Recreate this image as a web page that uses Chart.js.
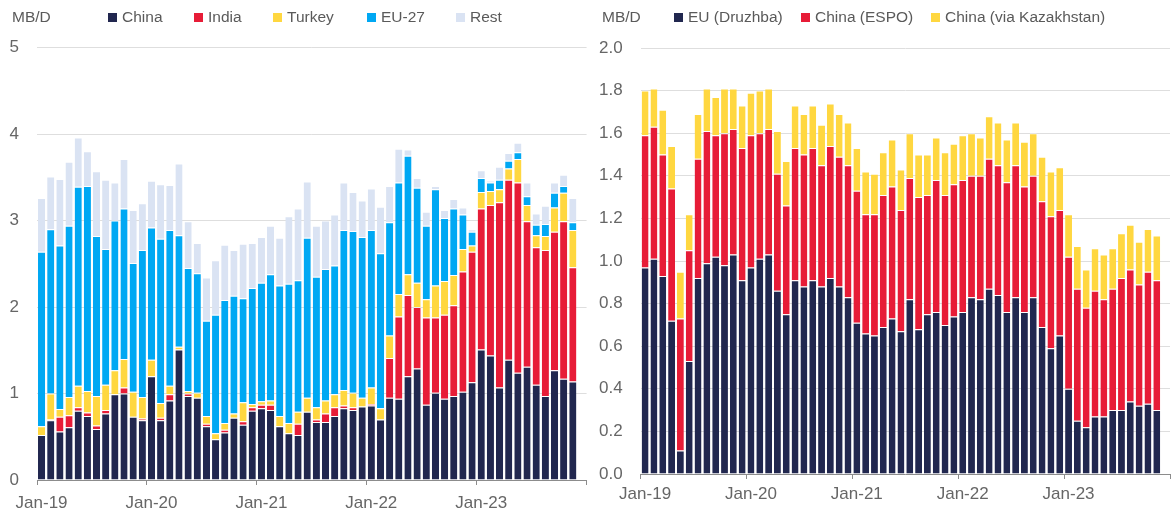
<!DOCTYPE html>
<html>
<head>
<meta charset="utf-8">
<title>Russian crude exports by destination</title>
<script src="https://cdn.jsdelivr.net/npm/chart.js@4.4.0/dist/chart.umd.min.js"></script>
<style>
  body { margin: 0; background: #fff; font-family: "Liberation Sans", Arial, sans-serif; }
  #wrap { position: relative; width: 1171px; height: 515px; overflow: hidden; }
  .panel { position: absolute; top: 0; height: 515px; }
  .panel canvas { position: absolute; left: 0; top: 0; }
  .legend { position: absolute; left: 0; top: 0; width: 100%; height: 34px; font-size: 15.5px; color: #5a5a5a; }
  .legend span { position: absolute; top: 8px; height: 18px; display: flex; align-items: center; white-space: nowrap; }
  .legend i { display: inline-block; width: 9px; height: 9px; margin-right: 5px; }
</style>
</head>
<body>
<div id="wrap">
  <div class="panel" id="leftPanel" style="left:0;width:590px">
    <canvas id="leftChart" width="590" height="515"></canvas>
    <div class="legend" id="leftLegend"></div>
  </div>
  <div class="panel" id="rightPanel" style="left:590px;width:581px">
    <canvas id="rightChart" width="581" height="515"></canvas>
    <div class="legend" id="rightLegend"></div>
  </div>
</div>
<script>
// -------- Data --------
const MONTHS = ['Jan', 'Feb', 'Mar', 'Apr', 'May', 'Jun', 'Jul', 'Aug', 'Sep', 'Oct', 'Nov', 'Dec'];
const YEARS = ['19', '20', '21', '22', '23'];
const UNIT = 'MB/D';

// left panel: seaborne crude by destination (Jan-19 .. Nov-23)
const china = [0.52, 0.69, 0.56, 0.61, 0.80, 0.74, 0.59, 0.77, 0.99, 1.00, 0.73, 0.69,
  1.20, 0.69, 0.92, 1.51, 0.97, 0.95, 0.62, 0.47, 0.55, 0.72, 0.64, 0.80,
  0.83, 0.81, 0.62, 0.54, 0.52, 0.79, 0.67, 0.67, 0.74, 0.83, 0.81, 0.85,
  0.86, 0.70, 0.95, 0.94, 1.20, 1.29, 0.87, 1.01, 0.94, 0.97, 1.02, 1.13,
  1.51, 1.44, 1.07, 1.39, 1.24, 1.31, 1.10, 0.97, 1.27, 1.17, 1.14];
const india = [0.00, 0.01, 0.17, 0.14, 0.04, 0.04, 0.04, 0.04, 0.00, 0.07, 0.00, 0.02,
  0.00, 0.03, 0.07, 0.00, 0.03, 0.00, 0.03, 0.00, 0.03, 0.00, 0.04, 0.04,
  0.04, 0.06, 0.00, 0.00, 0.13, 0.00, 0.03, 0.10, 0.10, 0.03, 0.03, 0.00,
  0.02, 0.00, 0.46, 0.95, 0.94, 0.71, 1.01, 0.87, 0.97, 1.05, 1.39, 1.51,
  1.63, 1.74, 2.14, 2.08, 2.20, 1.68, 1.59, 1.69, 1.60, 1.82, 1.32];
const turkey = [0.10, 0.30, 0.09, 0.21, 0.25, 0.25, 0.34, 0.29, 0.28, 0.33, 0.29, 0.25,
  0.19, 0.17, 0.10, 0.03, 0.03, 0.06, 0.09, 0.07, 0.08, 0.05, 0.22, 0.04,
  0.04, 0.05, 0.12, 0.12, 0.14, 0.16, 0.14, 0.15, 0.15, 0.18, 0.17, 0.10,
  0.19, 0.13, 0.26, 0.26, 0.24, 0.28, 0.21, 0.37, 0.39, 0.35, 0.26, 0.07,
  0.19, 0.16, 0.15, 0.13, 0.27, 0.19, 0.14, 0.16, 0.28, 0.33, 0.43];
const eu27 = [2.02, 1.90, 1.89, 1.98, 2.30, 2.37, 1.85, 1.57, 1.73, 1.74, 1.49, 1.70,
  1.53, 1.90, 1.80, 1.29, 1.42, 1.38, 1.10, 1.37, 1.42, 1.36, 1.20, 1.34,
  1.37, 1.46, 1.51, 1.61, 1.52, 1.85, 1.51, 1.52, 1.49, 1.85, 1.87, 1.86,
  1.82, 1.79, 1.31, 1.29, 1.37, 1.10, 0.85, 1.11, 0.73, 0.77, 0.40, 0.16,
  0.16, 0.10, 0.11, 0.09, 0.08, 0.10, 0.12, 0.14, 0.17, 0.08, 0.09];
const rest = [0.62, 0.61, 0.77, 0.74, 0.57, 0.40, 0.75, 0.80, 0.44, 0.57, 0.61, 0.54,
  0.54, 0.63, 0.52, 0.83, 0.54, 0.35, 0.50, 0.63, 0.64, 0.53, 0.63, 0.52,
  0.53, 0.56, 0.55, 0.78, 0.83, 0.65, 0.59, 0.56, 0.59, 0.55, 0.45, 0.42,
  0.48, 0.54, 0.42, 0.39, 0.07, 0.11, 0.16, 0.04, 0.09, 0.11, 0.08, 0.03,
  0.09, 0.02, 0.15, 0.09, 0.11, 0.16, 0.13, 0.21, 0.12, 0.13, 0.28];

// right panel: pipeline crude (Jan-19 .. Nov-23)
const euDruzhba = [0.97, 1.01, 0.93, 0.72, 0.11, 0.53, 0.92, 0.99, 1.02, 0.98, 1.03, 0.91,
  0.97, 1.01, 1.03, 0.86, 0.75, 0.91, 0.88, 0.91, 0.88, 0.92, 0.88, 0.83,
  0.71, 0.66, 0.65, 0.69, 0.73, 0.67, 0.82, 0.68, 0.75, 0.76, 0.70, 0.74,
  0.76, 0.83, 0.82, 0.87, 0.84, 0.76, 0.83, 0.76, 0.83, 0.69, 0.59, 0.65,
  0.40, 0.25, 0.22, 0.27, 0.27, 0.30, 0.30, 0.34, 0.32, 0.33, 0.30];
const chinaEspo = [0.62, 0.62, 0.57, 0.62, 0.62, 0.52, 0.56, 0.62, 0.57, 0.62, 0.59, 0.62,
  0.62, 0.59, 0.59, 0.55, 0.51, 0.62, 0.62, 0.62, 0.57, 0.62, 0.61, 0.62,
  0.62, 0.56, 0.57, 0.62, 0.62, 0.57, 0.57, 0.62, 0.56, 0.62, 0.61, 0.62,
  0.62, 0.57, 0.58, 0.61, 0.61, 0.61, 0.62, 0.59, 0.57, 0.59, 0.62, 0.59,
  0.62, 0.62, 0.56, 0.59, 0.55, 0.57, 0.62, 0.62, 0.57, 0.62, 0.61];
const chinaKaz = [0.21, 0.18, 0.21, 0.20, 0.22, 0.17, 0.21, 0.20, 0.18, 0.21, 0.19, 0.20,
  0.20, 0.20, 0.19, 0.20, 0.21, 0.20, 0.19, 0.20, 0.19, 0.20, 0.20, 0.20,
  0.20, 0.20, 0.19, 0.20, 0.22, 0.19, 0.21, 0.20, 0.19, 0.20, 0.20, 0.19,
  0.21, 0.20, 0.18, 0.20, 0.20, 0.20, 0.20, 0.21, 0.20, 0.21, 0.21, 0.20,
  0.20, 0.20, 0.18, 0.20, 0.21, 0.19, 0.21, 0.21, 0.20, 0.20, 0.21];

// axis ticks
const LEFT_Y_MAX = 5, LEFT_Y_STEP = 1;
const RIGHT_Y_MAX = 2, RIGHT_Y_STEP = 0.2;

// -------- Style --------
const NAVY = '#21274f';
const RED = '#e71c37';
const YELLOW = '#ffd740';
const BLUE = '#00a8f3';
const PALE = '#dae3f3';
const TEXT = '#666666';
const FONT = '"Liberation Sans", Arial, sans-serif';

// month labels Jan-19 .. Dec-23 (axis runs one month past the last bar)
const labels = [];
YEARS.forEach(y => MONTHS.forEach(m => labels.push(`${m}-${y}`)));

function series(label, data, color) {
  return {
    label,
    data,
    backgroundColor: color,
    borderColor: 'rgba(255,255,255,0.45)',
    borderWidth: { top: 1, right: 0, bottom: 0, left: 0 },
    borderSkipped: false,
    categoryPercentage: 1,
    barPercentage: 0.78,
  };
}

function makeOptions(o) {
  return {
    responsive: false,
    animation: false,
    layout: { padding: { top: o.top, right: 1, left: 0, bottom: 0 } },
    plugins: { legend: { display: false }, tooltip: { enabled: false } },
    scales: {
      x: {
        stacked: true,
        ticks: {
          autoSkip: false,
          maxRotation: 0,
          padding: o.xPad,
          color: TEXT,
          font: { family: FONT, size: 17 },
          callback: function (value, index) {
            return index % 12 === 0 ? this.getLabelForValue(value) : '';
          },
        },
        grid: {
          offset: true,
          drawOnChartArea: false,
          drawTicks: true,
          tickLength: 5,
          color: ctx => (ctx.type !== 'tick' || ctx.index % 12 === 0 ? '#8c8c8c' : 'rgba(0,0,0,0)'),
        },
        border: { display: true, color: '#8c8c8c', width: 1 },
        afterFit: s => { s.height = o.xHeight; },
      },
      y: {
        stacked: true,
        min: 0,
        max: o.yMax,
        ticks: {
          stepSize: o.yStep,
          padding: 18,
          color: TEXT,
          font: { family: FONT, size: 17 },
          callback: o.fmt,
        },
        grid: { color: '#dedede', drawTicks: false, lineWidth: 1 },
        border: { display: false },
        afterFit: s => { s.width = o.yWidth; },
      },
    },
  };
}

function buildLegend(el, chart, xs) {
  el.innerHTML = `<span style="left:12px">${UNIT}</span>`;
  chart.data.datasets.forEach((ds, i) => {
    const item = document.createElement('span');
    item.style.left = xs[i] + 'px';
    item.innerHTML = `<i style="background:${ds.backgroundColor}"></i>${ds.label}`;
    el.appendChild(item);
  });
}

// -------- Charts --------
const leftChart = new Chart(document.getElementById('leftChart'), {
  type: 'bar',
  data: {
    labels,
    datasets: [
      series('China', china, NAVY),
      series('India', india, RED),
      series('Turkey', turkey, YELLOW),
      series('EU-27', eu27, BLUE),
      series('Rest', rest, PALE),
    ],
  },
  options: makeOptions({
    top: 47.5, xHeight: 35, xPad: 8, yWidth: 37,
    yMax: LEFT_Y_MAX, yStep: LEFT_Y_STEP, fmt: v => String(v),
  }),
});

const rightChart = new Chart(document.getElementById('rightChart'), {
  type: 'bar',
  data: {
    labels,
    datasets: [
      series('EU (Druzhba)', euDruzhba, NAVY),
      series('China (ESPO)', chinaEspo, RED),
      series('China (via Kazakhstan)', chinaKaz, YELLOW),
    ],
  },
  options: makeOptions({
    top: 48, xHeight: 41, xPad: 5, yWidth: 50.7,
    yMax: RIGHT_Y_MAX, yStep: RIGHT_Y_STEP, fmt: v => v.toFixed(1),
  }),
});

buildLegend(document.getElementById('leftLegend'), leftChart, [108, 194, 273, 367, 456]);
buildLegend(document.getElementById('rightLegend'), rightChart, [84, 211, 341]);
</script>
</body>
</html>
